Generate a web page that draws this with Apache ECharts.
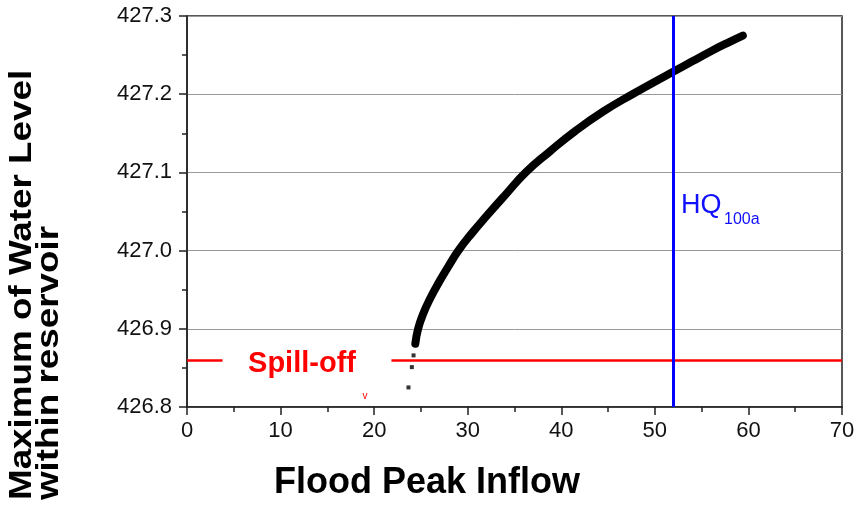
<!DOCTYPE html>
<html>
<head>
<meta charset="utf-8">
<script src="https://cdn.jsdelivr.net/npm/echarts@6/dist/echarts.min.js"></script>
<style>
  html, body { margin: 0; padding: 0; background: #fff; }
  #chart { width: 859px; height: 505px; }
</style>
</head>
<body>
<div id="chart"></div>
<script>
// curve (flood peak inflow vs max water level)
const inflow = [24.4, 24.7, 25.2, 26.0, 27.0, 28.0, 29.0, 30.5, 32.0, 34.0, 36.2, 38.7, 41.5, 44.5, 47.6, 50.0, 52.0, 54.0, 56.0, 58.0, 59.4]
const level = [426.881, 426.900, 426.918, 426.939, 426.961, 426.981, 427.000, 427.023, 427.044, 427.071, 427.100, 427.126, 427.153, 427.178, 427.200, 427.216, 427.229, 427.242, 427.255, 427.267, 427.275]

// the few loose points below the curve
const dotInflow = [23.67, 24.03, 24.21]
const dotLevel = [426.825, 426.851, 426.866]

const spillLevel = 426.86
const spillGap = [3.8, 21.85] // label box hides the line here
const hq100 = 52

const xTicks = [0, 70, 10]
const yTicks = [426.8, 427.3, 0.1]

const chart = echarts.init(document.getElementById('chart'))
const font = 'Liberation Sans, Arial, sans-serif'

const option = {
  animation: false,
  grid: {
    left: 187, right: 17, top: 16, bottom: 98,
    show: true, borderColor: '#222', borderWidth: 1.5, backgroundColor: '#fff'
  },
  xAxis: {
    type: 'value',
    min: xTicks[0], max: xTicks[1], interval: xTicks[2],
    axisLine: { lineStyle: { color: '#222', width: 1.5 } },
    axisTick: { length: 8, lineStyle: { color: '#222', width: 1.5 } },
    minorTick: { show: true, splitNumber: 2, length: 5, lineStyle: { color: '#222', width: 1.5 } },
    axisLabel: { fontSize: 22, color: '#111', fontFamily: font, margin: 13 },
    splitLine: { show: false }
  },
  yAxis: {
    type: 'value',
    min: yTicks[0], max: yTicks[1], interval: yTicks[2],
    axisLine: { show: true, lineStyle: { color: '#222', width: 1.5 } },
    axisTick: { show: true, length: 8, lineStyle: { color: '#222', width: 1.5 } },
    minorTick: { show: true, splitNumber: 2, length: 5, lineStyle: { color: '#222', width: 1.5 } },
    axisLabel: {
      fontSize: 22, color: '#111', fontFamily: font, margin: 15,
      formatter: v => v.toFixed(1)
    },
    splitLine: { show: true, lineStyle: { color: '#999', width: 1 } }
  },
  series: [
    {
      type: 'line',
      data: inflow.map((x, i) => [x, level[i]]),
      smooth: 0.5,
      showSymbol: false,
      lineStyle: { color: '#000', width: 8, cap: 'round', join: 'round' },
      z: 3
    },
    {
      type: 'scatter',
      data: dotInflow.map((x, i) => [x, dotLevel[i]]),
      symbol: 'rect',
      symbolSize: 4,
      itemStyle: { color: '#000' },
      z: 3
    },
    {
      // spill-off level and HQ100a line
      type: 'line',
      data: [],
      markLine: {
        silent: true,
        symbol: ['none', 'none'],
        label: { show: false },
        data: [
          [{ coord: [xTicks[0], spillLevel] }, { coord: [spillGap[0], spillLevel] }],
          [{ coord: [spillGap[1], spillLevel] }, { coord: [xTicks[1], spillLevel] }],
          [{ coord: [hq100, yTicks[0]], lineStyle: { color: '#0000ff', width: 3 } },
           { coord: [hq100, yTicks[1]] }]
        ],
        lineStyle: { color: '#ff0000', width: 2.5, type: 'solid' }
      },
      z: 4
    }
  ],
  graphic: [
    {
      type: 'text', x: 22, y: 500, rotation: Math.PI / 2, scaleX: 1.15,
      style: { text: 'Maximum of Water Level', font: 'bold 32px ' + font, fill: '#000', align: 'left', verticalAlign: 'middle' }
    },
    {
      type: 'text', x: 49, y: 500, rotation: Math.PI / 2, scaleX: 1.15,
      style: { text: 'within reservoir', font: 'bold 32px ' + font, fill: '#000', align: 'left', verticalAlign: 'middle' }
    },
    {
      type: 'text', x: 427, y: 483,
      style: { text: 'Flood Peak Inflow', font: 'bold 36px ' + font, fill: '#000', align: 'center', verticalAlign: 'middle' }
    },
    {
      type: 'text', x: 302, y: 364, z: 10,
      style: { text: 'Spill-off', font: 'bold 29px ' + font, fill: '#ff0000', align: 'center', verticalAlign: 'middle' }
    },
    {
      type: 'text', x: 365, y: 396, z: 10,
      style: { text: 'v', font: '10px ' + font, fill: '#ff0000', align: 'center', verticalAlign: 'middle' }
    },
    {
      type: 'text', x: 681, y: 206, z: 10,
      style: { text: 'HQ', font: '27px ' + font, fill: '#1010ff', align: 'left', verticalAlign: 'middle' }
    },
    {
      type: 'text', x: 724, y: 220, z: 10,
      style: { text: '100a', font: '16px ' + font, fill: '#1010ff', align: 'left', verticalAlign: 'middle' }
    }
  ]
}

chart.setOption(option)
</script>
</body>
</html>
